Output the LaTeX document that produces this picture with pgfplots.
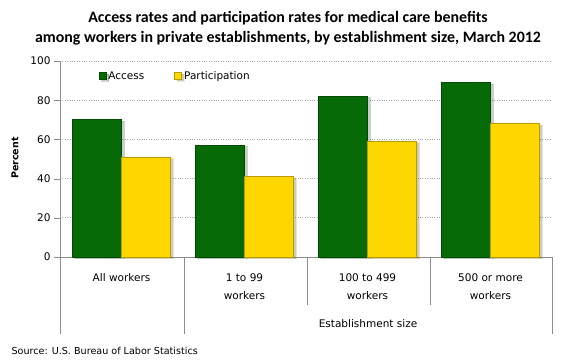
\documentclass[border=0pt]{standalone}
\usepackage{pgfplots}
\pgfplotsset{compat=1.18}
\usepackage{fontspec}
\setmainfont{DejaVu Sans}
\newfontfamily\titlefont{Carlito}
\usetikzlibrary{shadows}
\definecolor{accgreen}{HTML}{066B06}
\definecolor{accdark}{HTML}{034A03}
\definecolor{partyellow}{HTML}{FFD700}
\definecolor{partdark}{HTML}{B89B00}
\definecolor{axgray}{HTML}{8C8C8C}
\begin{document}
\begin{tikzpicture}[x=1pt,y=1pt]
\path[use as bounding box] (0,0) rectangle (580,360);
\begin{axis}[
  at={(60pt,103pt)}, anchor=south west,
  scale only axis, width=492pt, height=196pt,
  ybar=0pt, bar width=0.4,
  xmin=-0.5, xmax=3.5, ymin=0, ymax=100,
  ytick={0,20,40,60,80,100},
  xtick={0,1,2,3},
  xticklabels={All workers,1 to 99\\workers,100 to 499\\workers,500 or more\\workers},
  xticklabel style={align=center, font=\fontsize{10.5}{18}\selectfont, yshift=-7pt},
  yticklabel style={font=\fontsize{10.5}{12}\selectfont},
  /pgf/number format/assume math mode=true,
  axis x line*=bottom, axis y line*=left,
  axis line style={draw=axgray, -},
  tick align=outside, major tick length=6pt,
  ytick style={draw=axgray},
  xtick style={draw=none},
  ymajorgrids, grid style={dotted, draw=gray!70, line width=0.8pt},
  clip=false,
  legend style={at={(0.072,0.923)}, anchor=west, draw=none, fill=none,
    legend columns=2, font=\fontsize{10.5}{12}\selectfont,
    /tikz/every even column/.append style={column sep=28pt},
    /tikz/every odd column/.append style={column sep=0pt}},
  legend image code/.code={\draw[#1] (0pt,-3.5pt) rectangle (7pt,3.5pt);},
]
\addplot[fill=accgreen, draw=accdark, line width=0.8pt,
  drop shadow={shadow xshift=2.5pt, shadow yshift=-1.5pt, fill=black, opacity=0.2}]
  coordinates {(0,70) (1,57) (2,82) (3,89)};
\addplot[fill=partyellow, draw=partdark, line width=0.8pt,
  drop shadow={shadow xshift=2.5pt, shadow yshift=-1.5pt, fill=black, opacity=0.2}]
  coordinates {(0,51) (1,41) (2,59) (3,68)};
\legend{Access,Participation}
\end{axis}
% category separators
\draw[axgray] (60,103) -- (60,26);
\draw[axgray] (184,103) -- (184,26);
\draw[axgray] (307,103) -- (307,55);
\draw[axgray] (430,103) -- (430,55);
\draw[axgray] (552,103) -- (552,26);
\node[font=\fontsize{10.5}{12}\selectfont] at (368,36) {Establishment\ size};
\node[font=\fontsize{9.6}{12}\selectfont, anchor=west] at (8,9) {Source: U.S. Bureau of Labor Statistics};
\node[rotate=90, font=\fontsize{9.5}{12}\selectfont\bfseries] at (15,202) {Percent};
\node[font=\titlefont\fontsize{15.9}{20}\selectfont\bfseries, align=center] at (288,332)
  {Access rates and participation rates for medical care benefits\\among workers in private establishments, by establishment size, March 2012};
\end{tikzpicture}
\end{document}
